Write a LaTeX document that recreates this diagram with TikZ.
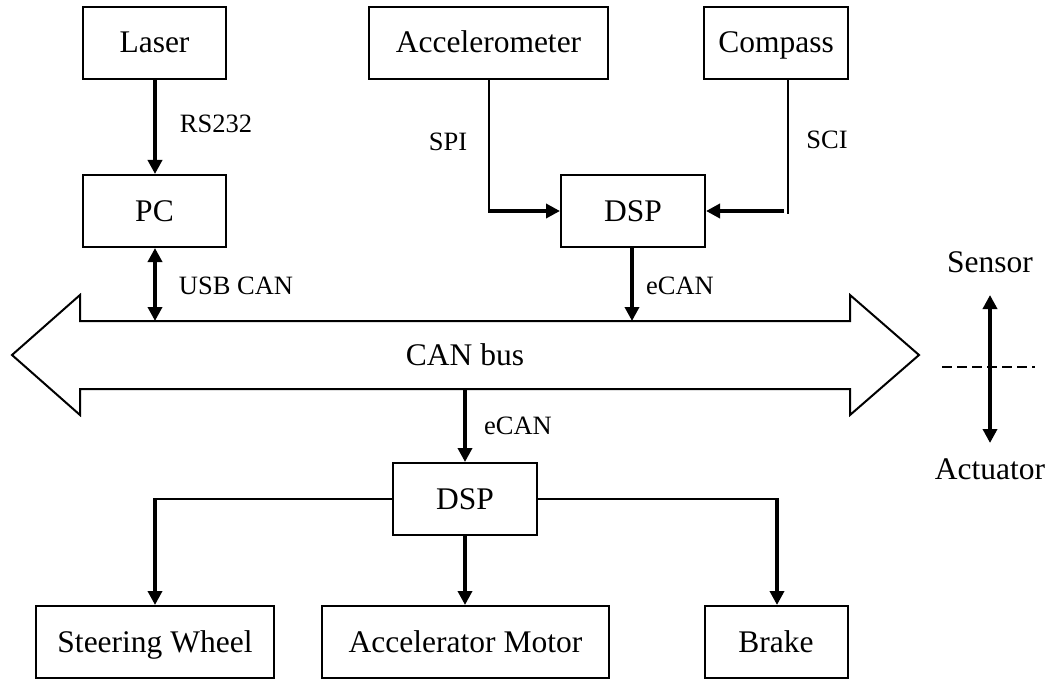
\documentclass[tikz,border=0pt]{standalone}
\usepackage{fontspec}
\setmainfont{Liberation Serif}
\usetikzlibrary{arrows.meta,calc}
\tikzset{
  box/.style={draw,line width=2pt,rectangle,minimum height=72pt,inner sep=0pt,text height=24pt,text depth=4pt,font=\fontsize{31.5}{36}\selectfont},
  lbl/.style={inner sep=0pt,text height=19pt,text depth=0pt,font=\fontsize{26.5}{30}\selectfont},
  big/.style={inner sep=0pt,text height=24pt,text depth=4pt,font=\fontsize{31.5}{36}\selectfont},
  wire/.style={line width=2pt},
  arr/.style={line width=3.5pt,-{Triangle[length=14pt,width=14pt]}},
  darr/.style={line width=3.5pt,{Triangle[length=14pt,width=14pt]}-{Triangle[length=14pt,width=14pt]}},
}
\begin{document}
\begin{tikzpicture}[x=1pt,y=-1pt]
\useasboundingbox (0,0) rectangle (1051,679);
% top row
\node[box,minimum width=143pt] (laser) at (154.5,43) {Laser};
\node[box,minimum width=239pt] (acc) at (488.5,43) {Accelerometer};
\node[box,minimum width=144pt] (comp) at (776,43) {Compass};
\node[box,minimum width=143pt] (pc) at (154.5,211) {PC};
\node[box,minimum width=144pt] (dspa) at (633,211) {DSP};
% bus
\draw[line width=2pt,line join=miter] (12,355) -- (80,295) -- (80,321) -- (850,321) -- (850,295) -- (919,355)
  -- (850,415) -- (850,389) -- (80,389) -- (80,415) -- cycle;
\node[big] (buslabel) at (465,355) {CAN bus};
\coordinate (busPC) at (155,321);
\coordinate (busDSPa) at (632,321);
\coordinate (busDSPb) at (465,389);
% lower
\node[box,minimum width=144pt] (dspb) at (465,499) {DSP};
\node[box,minimum width=238pt] (steer) at (155,642) {Steering Wheel};
\node[box,minimum width=287pt] (motor) at (465.5,642) {Accelerator Motor};
\node[box,minimum width=143pt] (brake) at (776,642) {Brake};
% labels
\node[lbl] (rs) at (216,123) {RS232};
\node[lbl] (usb) at (236,285) {USB CAN};
\node[lbl] (spi) at (448,141) {SPI};
\node[lbl] (sci) at (827,139) {SCI};
\node[lbl] (ecana) at (680,285) {eCAN};
\node[lbl] (ecanb) at (518,425) {eCAN};
% connectors
\draw[arr] (laser.south -| 155,0) -- (pc.north -| 155,0);
\draw[darr] (pc.south -| busPC) -- (busPC);
\draw[wire] (acc.south -| 489,0) -- (489,212);
\draw[arr] (488,211) -- (dspa.west);
\coordinate (cv) at ($(comp.south)+(12,0)$);
\draw[wire] (cv) -- ++(0,134);
\draw[arr] (784,211) -- (dspa.east);
\draw[arr] (dspa.south -| busDSPa) -- (busDSPa);
\draw[arr] (busDSPb) -- (dspb.north -| busDSPb);
\draw[wire] (dspb.west) -- (steer.north |- dspb.west);
\draw[arr] ([yshift=1pt]steer.north |- dspb.west) -- (steer.north);
\draw[arr] (dspb.south) -- (dspb.south |- motor.north);
\draw[wire] (dspb.east) -- (777,499);
\draw[arr] (777,498) -- (brake.north -| 777,0);
% sensor / actuator
\node[big] (sensor) at (990,262) {Sensor};
\node[big] (actuator) at (990,469) {Actuator};
\coordinate (sa1) at (990,295);
\coordinate (sa2) at (990,443);
\draw[darr] (sa1) -- (sa2);
\coordinate (dl1) at (942,367);
\coordinate (dl2) at (1035,367);
\draw[line width=2pt,dash pattern=on 10pt off 5pt] (dl1) -- (dl2);
\end{tikzpicture}
\end{document}
